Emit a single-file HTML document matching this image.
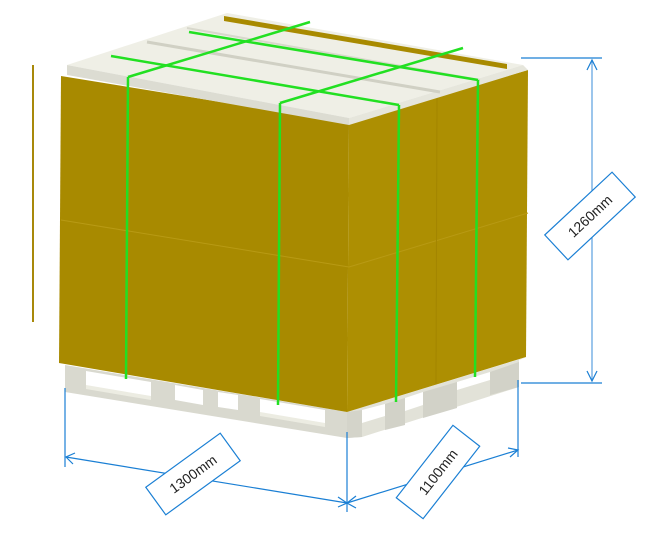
<!DOCTYPE html>
<html><head><meta charset="utf-8"><style>
html,body{margin:0;padding:0;background:#fff;}
svg{display:block;}
text{font-family:"Liberation Sans",sans-serif;font-size:14px;fill:#222;}
</style></head><body>
<svg width="656" height="552" viewBox="0 0 656 552" xmlns="http://www.w3.org/2000/svg">
<!-- left thin line -->
<line x1="33" y1="65" x2="33" y2="322" stroke="#a8890a" stroke-width="2"/>
<!-- pallet front face -->
<polygon points="65,365 347,412 347,438 65,392" fill="#d9d9cf"/>
<g fill="#fff">
<polygon points="86,371 151,382 151,398 86,387"/>
<polygon points="175,385 203,390 203,405 175,400"/>
<polygon points="218,392 238,395 238,410 218,407"/>
<polygon points="260,399 325,410 325,425 260,414"/>
</g>
<g fill="#ececE2">
<polygon points="86,385 151,396 151,400 86,389"/>
<polygon points="260,412 325,423 325,427 260,416"/>
</g>
<!-- pallet right face -->
<polygon points="347,412 527,357 519,360 519,387 362,437 347,438" fill="#e2e2d8"/>
<polygon points="347,412 362,410 362,437 347,438" fill="#d4d4ca"/>
<g fill="#fff">
<polygon points="362,410 385,404 385,416 362,423"/>
<polygon points="405,398 423,392 423,405 405,411"/>
<polygon points="457,382 490,372 490,380 457,390"/>
</g>
<g fill="#d2d2c8">
<polygon points="385,404 405,398 405,425 385,430"/>
<polygon points="423,392 457,382 457,408 423,418"/>
<polygon points="490,372 519,362 519,387 490,395"/>
</g>
<!-- box front face -->
<polygon points="61,76 349,123 347,412 59,363" fill="#a88a00"/>
<!-- box right face -->
<polygon points="349,123 528,70 526,357 347,412" fill="#ad8f02"/>
<line x1="61" y1="220" x2="349" y2="267" stroke="#b89a14" stroke-width="1"/>
<line x1="349" y1="267" x2="528" y2="213" stroke="#b89a14" stroke-width="1"/>
<line x1="437" y1="97" x2="436" y2="384" stroke="#a38500" stroke-width="1"/>
<!-- lid -->
<polygon points="67,65 227,13 523,65 349,118" fill="#efefe6"/>
<polygon points="67,65 349,118 349,125 67,75" fill="#dcdcd2"/>
<polygon points="349,118 523,65 528,70 349,125" fill="#e6e6dc"/>
<line x1="147" y1="42" x2="440" y2="92" stroke="#d0d0c4" stroke-width="3"/>
<line x1="187" y1="28" x2="480" y2="80" stroke="#d8d8cc" stroke-width="2"/>
<polygon points="224,16 507,64 507,69 224,21" fill="#a88a00"/>
<!-- straps -->
<g stroke="#22e022" stroke-width="2.5" fill="none">
<line x1="128" y1="77" x2="310" y2="22"/>
<line x1="280" y1="103" x2="463" y2="48"/>
<line x1="111" y1="56" x2="399" y2="105"/>
<line x1="189" y1="32" x2="478" y2="80"/>
<line x1="128" y1="77" x2="126" y2="379"/>
<line x1="280" y1="103" x2="278" y2="405"/>
<line x1="399" y1="105" x2="396" y2="402"/>
<line x1="478" y1="80" x2="475" y2="377"/>
</g>
<!-- dimensions -->
<g stroke="#1a7fd4" stroke-width="1.2" fill="none">
<line x1="521" y1="58" x2="602" y2="58"/>
<line x1="521" y1="383" x2="602" y2="383"/>
<line x1="592" y1="60" x2="592" y2="381" stroke="#5a9fe0"/>
<polyline points="587,70 592,60 597,70"/>
<polyline points="587,371 592,381 597,371"/>
<line x1="65" y1="388" x2="65" y2="467"/>
<line x1="347" y1="432" x2="347" y2="512"/>
<line x1="518" y1="380" x2="518" y2="457"/>
<line x1="66" y1="457" x2="347" y2="503"/>
<line x1="347" y1="503" x2="518" y2="450"/>
<polyline points="75,453 66,457 73,464"/>
<polyline points="338,497 347,503 338,507"/>
<polyline points="356,496 347,503 356,508"/>
<polyline points="508,448 518,450 510,457"/>
</g>
<g transform="translate(193,474) rotate(-36)">
<rect x="-46" y="-17" width="92" height="34" fill="#fff" stroke="#1a7fd4" stroke-width="1.2"/>
<text x="0" y="5" text-anchor="middle">1300mm</text>
</g>
<g transform="translate(438,472) rotate(-52)">
<rect x="-46" y="-17" width="92" height="34" fill="#fff" stroke="#1a7fd4" stroke-width="1.2"/>
<text x="0" y="5" text-anchor="middle">1100mm</text>
</g>
<g transform="translate(590,216) rotate(-43)">
<rect x="-46" y="-17" width="92" height="34" fill="#fff" stroke="#1a7fd4" stroke-width="1.2"/>
<text x="0" y="5" text-anchor="middle">1260mm</text>
</g>
</svg>
</body></html>
